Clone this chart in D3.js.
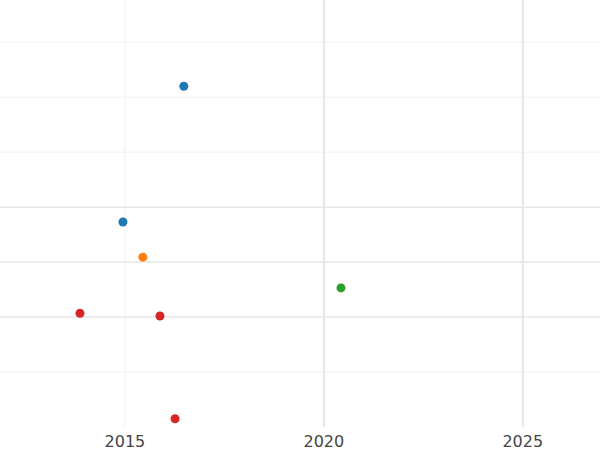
<!DOCTYPE html><html><head><script src="https://cdn.jsdelivr.net/npm/d3@7"></script>
<style>body{margin:0;background:#fff}</style></head><body><svg width="600" height="450"></svg>
<script>
const years=[2016.48,2014.95,2015.45,2020.43,2013.87,2015.88,2016.26];
const values=[6.2,3.73,3.09,2.53,2.07,2.02,0.15];
const groups=["a","a","b","c","d","d","d"];
const colors=["#1f77b4","#1f77b4","#ff7f0e","#2ca02c","#d62728","#d62728","#d62728"];
const xTicks=[2015,2020,2025];
const yGrid=[1,2,3,4,5,6,7];
const svg=d3.select("svg");
const x=d3.scaleLinear().domain([2011.86,2026.94]).range([0,600]);
const y=d3.scaleLinear().domain([0,7.75]).range([427,1]);
svg.selectAll(".hg").data(yGrid).join("line").attr("x1",0).attr("x2",600)
 .attr("y1",d=>y(d)).attr("y2",d=>y(d)).attr("stroke",d=>(d>=2&&d<=4)?"#e6e6e6":"#f0f0f0").attr("stroke-width",d=>(d>=2&&d<=4)?1.5:1);
svg.selectAll(".vg").data(xTicks).join("line").attr("y1",0).attr("y2",427)
 .attr("x1",d=>x(d)).attr("x2",d=>x(d)).attr("stroke",d=>d===2015?"#f0f0f0":"#e6e6e6").attr("stroke-width",d=>d===2015?1:2);
svg.selectAll(".xt").data(xTicks).join("text").attr("x",d=>x(d)).attr("y",447).attr("text-anchor","middle")
 .attr("font-family","DejaVu Sans").attr("font-size",16).attr("fill","#444").text(d=>d);
svg.selectAll("circle").data(years).join("circle").attr("cx",d=>x(d)).attr("cy",(d,i)=>y(values[i]))
 .attr("r",4.5).attr("fill",(d,i)=>colors[i]);
</script></body></html>
